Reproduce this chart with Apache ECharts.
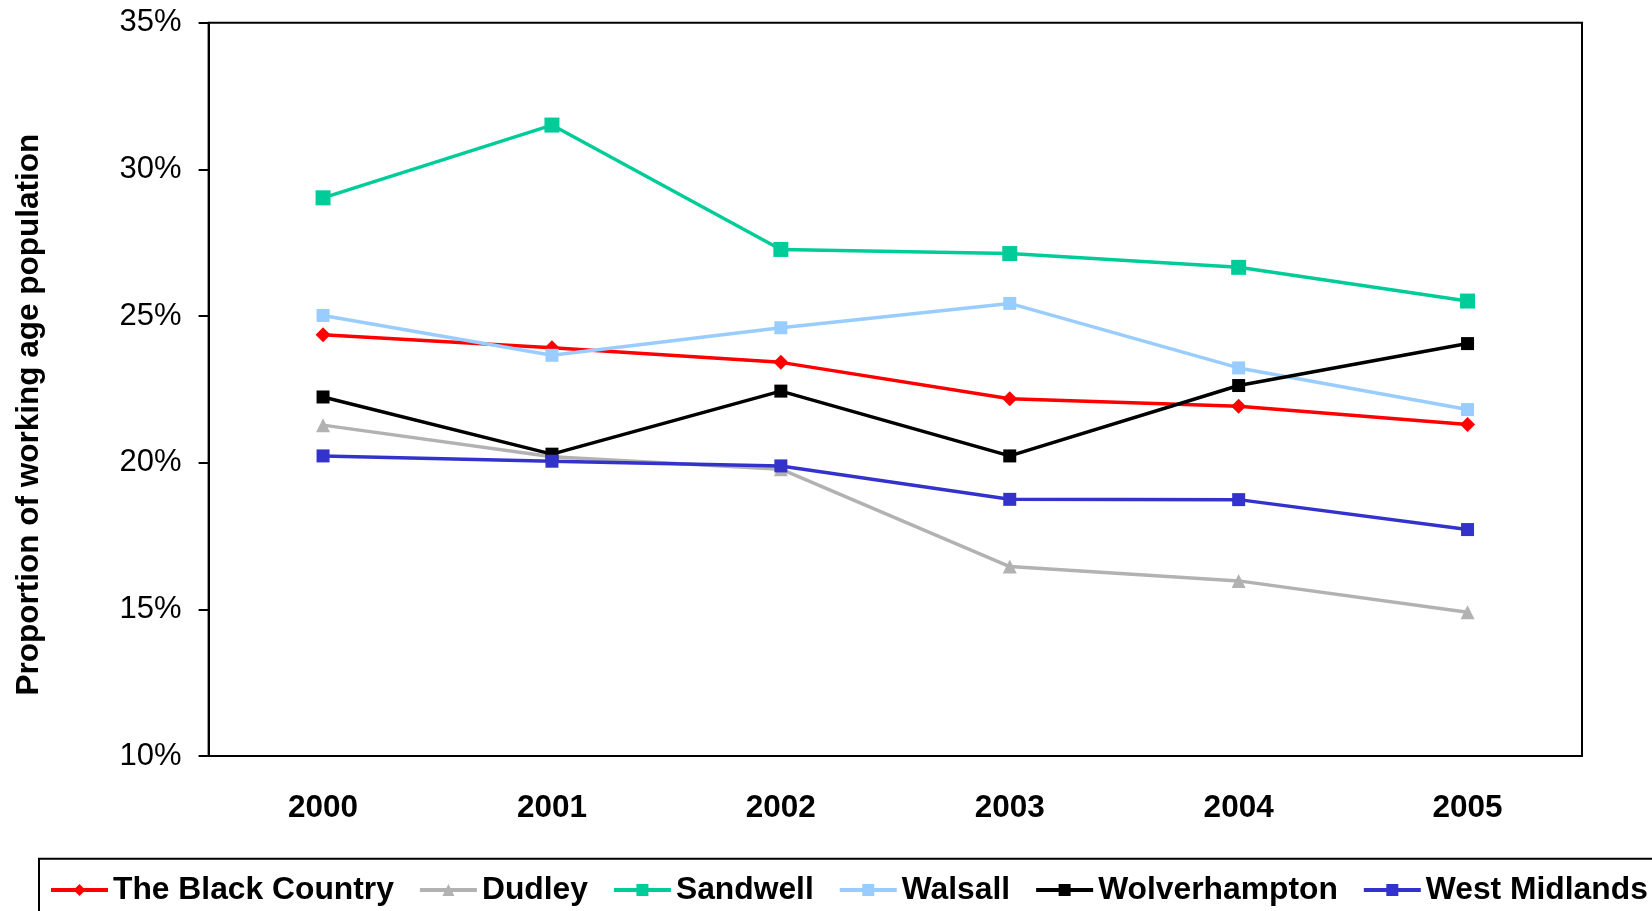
<!DOCTYPE html>
<html>
<head>
<meta charset="utf-8">
<script src="https://cdn.jsdelivr.net/npm/echarts@6/dist/echarts.min.js"></script>
<style>html,body{margin:0;padding:0;background:#fff}#c{width:1652px;height:911px}</style>
</head>
<body>
<div id="c"></div>
<script>
const years = ['2000', '2001', '2002', '2003', '2004', '2005'];
const blackCountry = [24.36, 23.92, 23.42, 22.18, 21.92, 21.30];
const dudley = [21.28, 20.20, 19.78, 16.46, 15.97, 14.90];
const sandwell = [29.03, 31.51, 27.27, 27.13, 26.66, 25.51];
const walsall = [25.02, 23.66, 24.60, 25.43, 23.23, 21.81];
const wolverhampton = [22.24, 20.29, 22.44, 20.23, 22.63, 24.06];
const westMidlands = [20.23, 20.05, 19.89, 18.75, 18.74, 17.72];
const yTicks = [10, 15, 20, 25, 30, 35];
const yTitle = 'Proportion of working age population';

const FONT = '"Liberation Sans", Arial, sans-serif';

function mk(name, data, color, symbol, size) {
  return {
    name: name, type: 'line', data: data,
    symbol: symbol, symbolSize: size,
    lineStyle: { color: color, width: 3.5 },
    itemStyle: { color: color },
    emphasis: { disabled: true },
    animation: false
  };
}

const chart = echarts.init(document.getElementById('c'), null, { renderer: 'canvas' });
chart.setOption({
  animation: false,
  backgroundColor: '#fff',
  grid: { left: 208.6, right: 70, top: 22.7, bottom: 155, show: true, borderColor: '#000', borderWidth: 2, containLabel: false },
  xAxis: {
    type: 'category', data: years, boundaryGap: true,
    axisLine: { lineStyle: { color: '#000', width: 2 } },
    axisTick: { inside: true, length: 10, interval: 0, lineStyle: { color: '#000', width: 2 } },
    axisLabel: { margin: 36, color: '#000', fontFamily: FONT, fontWeight: 'bold', fontSize: 31.5 },
    splitLine: { show: false }
  },
  yAxis: {
    type: 'value', min: yTicks[0], max: yTicks[yTicks.length - 1], interval: 5,
    axisLine: { show: true, lineStyle: { color: '#000', width: 2 } },
    axisTick: { show: true, inside: false, length: 10, lineStyle: { color: '#000', width: 2 } },
    axisLabel: { margin: 27, color: '#000', fontFamily: FONT, fontSize: 31, formatter: '{value}%', padding: [3, 0, 0, 0] },
    splitLine: { show: false }
  },
  legend: {
    left: 49, top: 874, padding: 0, width: 1800,
    itemWidth: 57, itemHeight: 15, itemGap: 24,
    lineStyle: { width: 4 },
    textStyle: { color: '#000', fontFamily: FONT, fontWeight: 'bold', fontSize: 31.8 },
    data: ['The Black Country', 'Dudley', 'Sandwell', 'Walsall', 'Wolverhampton', 'West Midlands']
  },
  graphic: [
    { type: 'rect', z: -1, shape: { x: 39, y: 858.7, width: 1700, height: 200 }, style: { fill: 'none', stroke: '#000', lineWidth: 2 } },
    { type: 'text', x: 29.5, y: 414.6, rotation: Math.PI / 2,
      style: { text: yTitle, fill: '#000', font: 'bold 31.5px ' + FONT, align: 'center', verticalAlign: 'middle' } }
  ],
  series: [
    mk('The Black Country', blackCountry, '#FF0000', 'diamond', 15),
    mk('Dudley', dudley, '#B2B2B2', 'triangle', 14),
    mk('Sandwell', sandwell, '#00CC99', 'rect', 15),
    mk('Walsall', walsall, '#99CCFF', 'rect', 13),
    mk('Wolverhampton', wolverhampton, '#000000', 'rect', 13),
    mk('West Midlands', westMidlands, '#3333CC', 'rect', 13)
  ]
});
</script>
</body>
</html>
